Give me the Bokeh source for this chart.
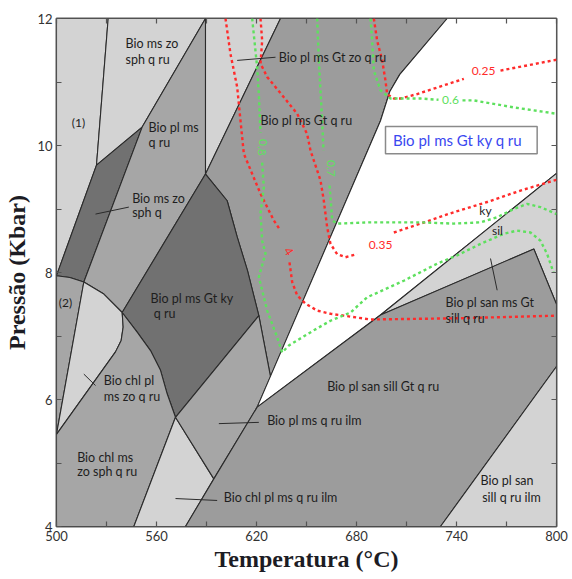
import math
from bokeh.plotting import figure
from bokeh.models import Range1d, LinearAxis, FixedTicker
from bokeh.embed import file_html
from bokeh.resources import INLINE
from bokeh.core.properties import value

NaN = float("nan")

# ---------------- axis ticks ----------------
x_ticks = [500, 530, 560, 590, 620, 650, 680, 710, 740, 770, 800]
x_tick_labels = ["500", "", "560", "", "620", "", "680", "", "740", "", "800"]
y_ticks = [4, 5, 6, 7, 8, 9, 10, 11, 12]
y_tick_labels = ["4", "", "6", "", "8", "", "10", "", "12"]

# ---------------- fields (T in °C, P in kbar) ----------------
reg1_T = [500, 531, 524, 500]
reg1_P = [12, 12, 9.69, 7.95]
mszo_T = [531, 589.4, 551.4, 524]
mszo_P = [12, 12, 10.29, 9.69]
msq_T = [524, 551.4, 516.4, 508, 500]
msq_P = [9.69, 10.29, 7.85, 7.92, 7.95]
plms_T = [551.4, 589.4, 589.4, 539.4, 528.4, 516.4]
plms_P = [10.29, 12, 9.55, 7.37, 7.66, 7.85]
gtzo_T = [589.4, 634.4, 589.4]
gtzo_P = [12, 12, 9.55]
gt_T = [634.4, 589.4, 602.4, 608.4, 614.6, 621.4, 628.4, 694.4, 700, 706, 734.4]
gt_P = [12, 9.55, 9.13, 8.56, 8.03, 7.32, 6.36, 10.39, 10.85, 11.12, 12]
gtky_T = [589.4, 602.4, 608.4, 614.6, 621.4, 571.4, 566.4, 562.4, 556.4, 548.4, 539.4]
gtky_P = [9.55, 9.13, 8.56, 8.03, 7.32, 5.72, 6.09, 6.46, 6.77, 7.06, 7.37]
reg2_T = [500, 508, 516.4, 500]
reg2_P = [7.95, 7.92, 7.85, 5.45]
lt_T = [516.4, 528.4, 539.4, 540, 538.8, 535.4, 500]
lt_P = [7.85, 7.66, 7.37, 7.14, 6.93, 6.75, 5.45]
chl_T = [500, 535.4, 538.8, 540, 539.4, 548.4, 556.4, 562.4, 566.4, 571.4, 546.4, 500]
chl_P = [5.45, 6.75, 6.93, 7.14, 7.37, 7.06, 6.77, 6.46, 6.09, 5.72, 4, 4]
chlilm_T = [571.4, 594.4, 577.4, 546.4]
chlilm_P = [5.72, 4.75, 4, 4]
ilm_T = [571.4, 621.4, 628.4, 620.4, 594.4]
ilm_P = [5.72, 7.32, 6.36, 5.88, 4.75]
ky_T = [620.4, 694.4, 700, 706, 734.4, 800, 800, 694.4]
ky_P = [5.88, 10.39, 10.85, 11.12, 12, 12, 9.56, 7.33]
sil_T = [694.4, 800, 800, 786.4]
sil_P = [7.33, 9.56, 7.5, 8.37]
san_T = [620.4, 694.4, 786.4, 800, 800, 730.4, 577.4, 594.4]
san_P = [5.88, 7.33, 8.37, 7.5, 6.52, 4, 4, 4.75]
ilm2_T = [730.4, 800, 800]
ilm2_P = [4, 4, 6.52]

LIGHT = "#d3d3d3"
MED = "#a6a6a6"
MED2 = "#9c9c9c"
DARK = "#717171"
fields = [
    (reg1_T, reg1_P, LIGHT), (mszo_T, mszo_P, LIGHT), (msq_T, msq_P, DARK),
    (plms_T, plms_P, MED), (gtzo_T, gtzo_P, LIGHT), (gt_T, gt_P, MED2),
    (gtky_T, gtky_P, DARK), (reg2_T, reg2_P, MED), (lt_T, lt_P, LIGHT),
    (chl_T, chl_P, MED), (chlilm_T, chlilm_P, LIGHT), (ilm_T, ilm_P, MED),
    (ky_T, ky_P, "#ffffff"), (sil_T, sil_P, LIGHT), (san_T, san_P, MED2),
    (ilm2_T, ilm2_P, LIGHT),
]

# ---------------- label leader lines ----------------
ptr_T = [[523.4, 543.4], [608.4, 631.4], [597.4, 621.4], [571.4, 596.4], [516.4, 523.4], [760.4, 764.4]]
ptr_P = [[8.92, 9.03], [11.34, 11.39], [5.62, 5.64], [4.44, 4.41], [6.40, 6.22], [8.22, 7.72]]

# ---------------- isopleths ----------------
r1_T = [601.4, 604.4, 608.4, 610.4, 612.4, 622.4, 630.4, 634.4, NaN,
        639.8, 641.4, 644.4, 649.4, 656.4, 664.4, 672.4, 688.4, 742.4, 800]
r1_P = [12.0, 11.44, 10.92, 10.39, 9.87, 9.24, 8.82, 8.66, NaN,
        8.16, 7.85, 7.64, 7.51, 7.40, 7.35, 7.32, 7.26, 7.28, 7.32]
r2_T = [622.4, 623.4, 622.4, 626.4, 636.4, 644.4, 650.4, 652.4, 658.4, 660.4, 662.4,
        664.4, 668.4, 673.4, 680.4, NaN, 702.4, 718.4, 738.4, 758.4, 778.4, 800]
r2_P = [12.0, 11.65, 11.29, 11.08, 10.76, 10.50, 10.18, 9.92, 9.45, 9.13, 8.71,
        8.45, 8.29, 8.24, 8.29, NaN, 8.63, 8.77, 8.95, 9.11, 9.29, 9.46]
r3_T = [690.4, 692.4, 695.4, 697.4, 698.4, 702.4, 706.4, 716.4, 744.4, NaN, 766.4, 800]
r3_P = [12.0, 11.65, 11.34, 11.02, 10.81, 10.74, 10.74, 10.81, 11.05, NaN, 11.18, 11.35]

g1_T = [617.4, 620.4, 621.4, 622.4, NaN, 623.4, 624.4, 622.4, 623.4, 625.4, 621.4, 626.4,
        632.4, 635.4, 639.4, 654.4, 664.4, 676.4, 686.4, 708.4, 728.4, 740.4, 754.4,
        768.4, 776.4, 784.4, 790.4, 794.4, 798.2]
g1_P = [12.0, 11.23, 10.81, 10.20, NaN, 9.73, 9.34, 8.93, 8.50, 8.30, 7.93, 7.40,
        6.98, 6.74, 6.85, 7.09, 7.24, 7.37, 7.61, 7.87, 8.14, 8.27, 8.45,
        8.61, 8.66, 8.63, 8.50, 8.29, 8.0]
g2_T = [656.4, 657.4, 659.4, 660.2, NaN, 663.8, 664.4, 665.4, 668.4, 688.4, 718.4, 738.4,
        754.4, 764.4, 774.4, 782.4, 790.4, 800]
g2_P = [12.0, 11.34, 10.39, 9.92, NaN, 9.37, 9.19, 8.82, 8.77, 8.79, 8.79, 8.77,
        8.79, 8.87, 9.0, 9.08, 9.03, 8.92]
g3_T = [688.4, 689.4, 690.4, 694.4, 700.4, 718.4, 729.2, NaN, 743.6, 750.4, 774.4, 800]
g3_P = [12.0, 11.65, 11.18, 10.87, 10.74, 10.74, 10.72, NaN, 10.71, 10.71, 10.60, 10.50]

RED = "#ff2b2b"
GREEN = "#5ee05e"

# ---------------- texts ----------------
lab_T = [541.4, 541.4, 555.2, 555.2, 545.4, 545.4, 633.4, 622.4, 733.4, 733.4,
         662.4, 626.4, 600.4, 754.4, 755.4, 528.4, 528.4, 512.4, 512.4, 556.4, 558.4]
lab_P = [11.61, 11.35, 10.28, 10.05, 9.16, 8.94, 11.39, 10.39, 7.53, 7.27,
         6.20, 5.67, 4.46, 4.72, 4.46, 6.30, 6.04, 5.09, 4.86, 7.59, 7.35]
lab_text = ["Bio ms zo", "sph q ru", "Bio pl ms", "q ru", "Bio ms zo", "sph q",
            "Bio pl ms Gt zo q ru", "Bio pl ms Gt q  ru", "Bio pl san ms Gt", "sill q ru",
            "Bio pl san sill Gt q ru", "Bio pl ms q ru ilm", "Bio chl pl ms q ru ilm",
            "Bio pl san", "sill q ru ilm", "Bio chl pl", "ms zo q ru", "Bio chl ms",
            "zo sph  q ru", "Bio pl ms Gt ky", "q  ru"]
num_T = [513.2, 505.4]
num_P = [10.36, 7.53]
num_text = ["(1)", "(2)"]
kysil_T = [757.4, 764.6]
kysil_P = [8.98, 8.66]
kysil_text = ["ky", "sil"]
red_T = [756.2, 694.4, 639.2]
red_P = [11.18, 8.44, 8.33]
red_text = ["0.25", "0.35", "4"]
red_angle = [0.0, 0.0, -1.0]
green_T = [736.4, 623.6, 664.6]
green_P = [10.71, 9.97, 9.64]
green_text = ["0.6", "0.8", "0.7"]
green_angle = [0.0, -math.pi / 2, -math.pi / 2]
box_T = [697.4, 788.4]
box_P = [9.87, 10.30]
box_text = "Bio pl ms  Gt  ky q ru"

# ---------------- figure ----------------
p = figure(width=572, height=579, x_range=Range1d(500, 800), y_range=Range1d(4, 12),
           output_backend="svg", toolbar_location=None,
           min_border_left=56, min_border_right=16, min_border_top=18, min_border_bottom=53,
           x_axis_label="Temperatura (°C)", y_axis_label="Pressão (Kbar)")
p.grid.visible = False
p.outline_line_color = "#5a5a5a"
p.outline_line_width = 2
p.background_fill_color = "#ffffff"

for xs, ys, col in fields:
    p.patch(xs, ys, fill_color=col, line_color="#2b2b2b", line_width=1.1)

p.multi_line(ptr_T, ptr_P, line_color="#2b2b2b", line_width=1)

for xs, ys in [(r1_T, r1_P), (r2_T, r2_P), (r3_T, r3_P)]:
    p.line(xs, ys, line_color=RED, line_width=2.4, line_dash="3 3")
for xs, ys in [(g1_T, g1_P), (g2_T, g2_P), (g3_T, g3_P)]:
    p.line(xs, ys, line_color=GREEN, line_width=2.4, line_dash="3 3")

p.quad(left=[box_T[0]], right=[box_T[1]], bottom=[box_P[0]], top=[box_P[1]],
       fill_color="#ffffff", line_color="#8a8a8a", line_width=1.5)
p.text(x=[(box_T[0] + box_T[1]) / 2], y=[(box_P[0] + box_P[1]) / 2], text=[box_text],
       text_font=value("Lato"), text_font_size="15px", text_color="#3a48f0",
       text_baseline="middle", text_align="center")

p.text(x=lab_T, y=lab_P, text=lab_text, text_font=value("Lato"), text_font_size="12.5px",
       text_color="#1e1e1e", text_baseline="middle", text_align="left")
p.text(x=num_T, y=num_P, text=num_text, text_font=value("Lato"), text_font_size="12px",
       text_color="#1e1e1e", text_baseline="middle", text_align="center")
p.text(x=kysil_T, y=kysil_P, text=kysil_text, text_font=value("Lato"), text_font_size="12px",
       text_color="#1e1e1e", text_baseline="middle", text_align="center")
p.text(x=red_T, y=red_P, text=red_text, angle=red_angle, text_font=value("Lato"),
       text_font_size="12px", text_color=RED, text_baseline="middle", text_align="center")
p.text(x=green_T, y=green_P, text=green_text, angle=green_angle, text_font=value("Lato"),
       text_font_size="12px", text_color=GREEN, text_baseline="middle", text_align="center")

# ---------------- axes ----------------
def style_axis(ax, ticks, labels):
    ax.ticker = FixedTicker(ticks=ticks)
    ax.major_label_overrides = {t: l for t, l in zip(ticks, labels)}
    ax.major_tick_in = 5
    ax.major_tick_out = 0
    ax.minor_tick_in = 0
    ax.minor_tick_out = 0
    ax.major_tick_line_color = "#555555"
    ax.major_tick_line_width = 1.2
    ax.axis_line_color = None
    ax.major_label_text_font = "Lato"
    ax.major_label_text_font_size = "13px"
    ax.major_label_text_color = "#333333"
    ax.major_label_standoff = 4
    ax.axis_label_text_font = "Liberation Serif"
    ax.axis_label_text_font_style = "bold"
    ax.axis_label_text_font_size = "24px"
    ax.axis_label_text_color = "#1c1c24"

style_axis(p.xaxis[0], x_ticks, x_tick_labels)
style_axis(p.yaxis[0], y_ticks, y_tick_labels)
p.xaxis[0].axis_label_standoff = 2
p.yaxis[0].axis_label_standoff = 4

top_ax = LinearAxis()
style_axis(top_ax, x_ticks, ["" for _ in x_ticks])
top_ax.major_label_text_font_size = "0px"
top_ax.major_label_standoff = 0
p.add_layout(top_ax, "above")
right_ax = LinearAxis()
style_axis(right_ax, y_ticks, ["" for _ in y_ticks])
right_ax.major_label_text_font_size = "0px"
right_ax.major_label_standoff = 0
p.add_layout(right_ax, "right")

open("out.html", "w").write(file_html(p, INLINE))
